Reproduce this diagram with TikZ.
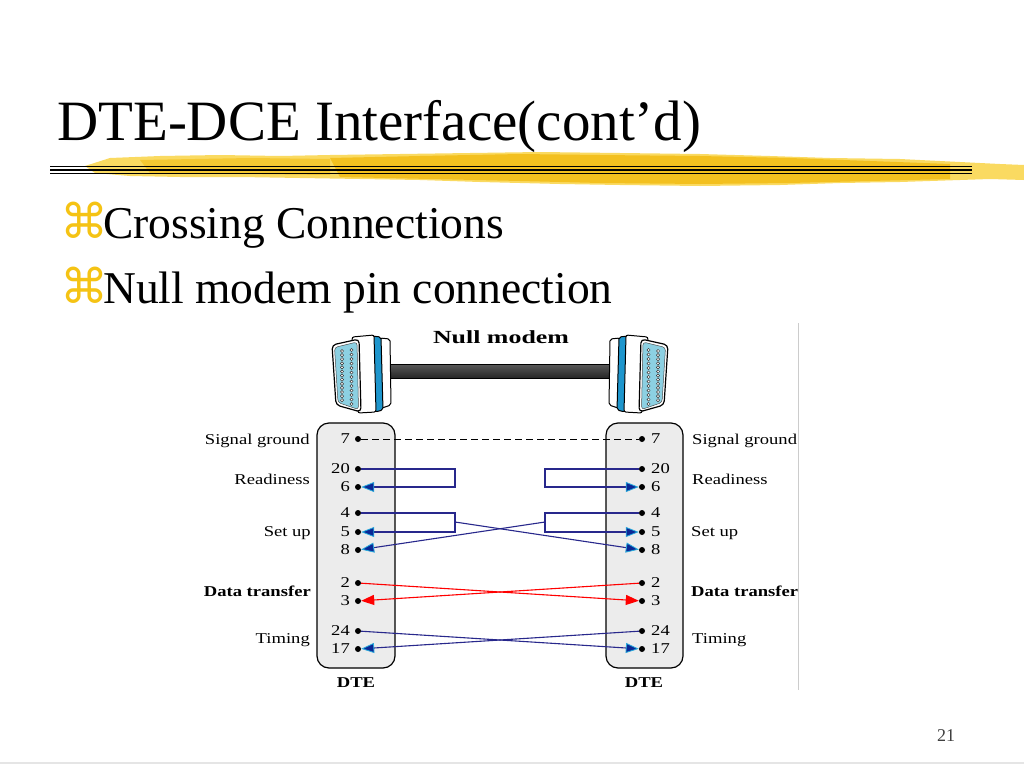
\documentclass[tikz,border=0pt]{standalone}
\usepackage{fontspec}
\setmainfont{Liberation Serif}
\newfontfamily\dia[FakeStretch=1.24]{Liberation Serif}
\newfontfamily\diatitle[FakeStretch=1.4]{Liberation Serif}
\newfontfamily\symf{DejaVu Sans}
\usetikzlibrary{arrows.meta}
\definecolor{navy}{RGB}{40,40,140}
\definecolor{arrowblue}{RGB}{10,40,150}
\definecolor{arrowcyan}{RGB}{40,170,220}
\definecolor{gold}{RGB}{245,195,20}
\definecolor{brushA}{RGB}{250,215,80}
\definecolor{brushB}{RGB}{242,188,20}
\definecolor{boxgray}{RGB}{236,236,236}
\definecolor{facblue}{RGB}{140,208,226}
\definecolor{bandblue}{RGB}{30,150,205}
\newcommand\dbconn{%
  \draw[black,line width=1pt,fill=white,rounded corners=2pt] (380,338) -- (390,339) -- (391,405) -- (382,408) -- cycle;
  \draw[black,line width=1pt,fill=bandblue,rounded corners=2pt] (372,336) -- (381,337) -- (383,410) -- (375,412) -- cycle;
  \draw[black,line width=1pt,fill=white,rounded corners=2pt] (352,337) -- (374,335) -- (376,412) -- (358,413) -- cycle;
  \draw[black,line width=1.2pt,fill=white,rounded corners=4pt] (332,345) -- (359,339) -- (361,412) -- (336,405) -- cycle;
  \draw[black!70,line width=0.5pt,fill=facblue,rounded corners=3pt] (334.5,347.5) -- (357,342) -- (358.5,409.5) -- (338,402.5) -- cycle;
  \foreach \i in {0,...,12} \draw[black!80,line width=0.5pt,fill=white] (342,{351+\i*4.1}) circle (1.6);
  \foreach \i in {0,...,12} \draw[black!80,line width=0.5pt,fill=white] (351.5,{350+\i*4.5}) circle (1.6);
}
\tikzset{
  pin/.style={circle,fill=black,inner sep=0pt,minimum size=6pt},
  lnum/.style={anchor=east,inner sep=0pt,font=\dia\fontsize{15}{17}\selectfont},
  rnum/.style={anchor=west,inner sep=0pt,font=\dia\fontsize{15}{17}\selectfont},
  grp/.style={inner sep=0pt,font=\dia\fontsize{15}{17}\selectfont},
  grpb/.style={inner sep=0pt,font=\dia\bfseries\fontsize{15}{17}\selectfont},
  wire/.style={navy,line width=1.1pt},
  bluearr/.style={wire,-{Triangle[length=13pt,width=10pt,fill=arrowblue,color=arrowcyan,line width=0.8pt]}},
  redarr/.style={red,line width=1.1pt,-{Triangle[length=13pt,width=10pt,fill=red,color=red]}},
  pinbox/.style={draw=black,line width=1.2pt,fill=boxgray,rounded corners=12pt}
}
\begin{document}
\begin{tikzpicture}[x=1pt,y=-1pt]
\useasboundingbox (0,0) rectangle (1024,768);
\fill[white] (0,0) rectangle (1024,768);
% brush
\fill[brushA,opacity=0.9] (85,166) -- (110,158) -- (160,156) -- (220,155) -- (280,156) -- (330,155) -- (400,154) -- (470,153) -- (540,152) -- (620,153) -- (700,154) -- (770,156) -- (830,158) -- (900,159) -- (960,162) -- (1000,164) -- (1024,165) -- (1024,180) -- (990,179) -- (960,180) -- (900,182) -- (840,183) -- (780,185) -- (700,186) -- (620,185) -- (560,184) -- (480,182) -- (420,180) -- (360,179) -- (300,178) -- (240,177) -- (180,177) -- (130,176) -- (95,173) -- cycle;
\fill[brushB,opacity=0.85] (330,158) -- (420,156) -- (520,154) -- (600,155) -- (700,156) -- (790,158) -- (870,161) -- (950,164) -- (950,179) -- (870,181) -- (790,183) -- (700,184) -- (600,183) -- (520,181) -- (430,179) -- (340,177) -- cycle;
\fill[brushB,opacity=0.6] (140,160) -- (250,158) -- (330,159) -- (330,175) -- (240,174) -- (150,173) -- cycle;
% triple line
\foreach \yy in {166.5,170,173.5} \draw[black,line width=1.6pt] (50,\yy) -- (972,\yy);
% title and bullets
\node[anchor=base west,inner sep=0pt,font=\fontsize{57}{60}\selectfont] (title) at (57,140) {DTE-DCE Interface(cont’d)};
\node[anchor=base west,inner sep=0pt,text=gold,font=\symf\fontsize{48}{50}\selectfont] (s1) at (60,238) {⌘};
\node[anchor=base west,inner sep=0pt,font=\fontsize{45.5}{48}\selectfont] (b1) at (103,238) {Crossing Connections};
\node[anchor=base west,inner sep=0pt,text=gold,font=\symf\fontsize{48}{50}\selectfont] (s2) at (60,303) {⌘};
\node[anchor=base west,inner sep=0pt,font=\fontsize{45.5}{48}\selectfont] (b2) at (103,303) {Null modem pin connection};
% page number and footer
\node[anchor=base,inner sep=0pt,text=black!75,font=\fontsize{18}{20}\selectfont] (pg) at (946,741) {21};
\draw[black!10,line width=1.5pt] (0,763) -- (1024,763);
% right border of figure
\draw[black!20,line width=0.8pt] (798,323) -- (798,690);
% null modem cable
\node[inner sep=0pt,font=\diatitle\bfseries\fontsize{18.5}{20}\selectfont] (nm) at (501,337) {Null modem};
\shade[top color=black!65,middle color=black!35,bottom color=black!85] (388,364) rectangle (612,378);
\draw[black,line width=0.8pt] (388,364) -- (612,364) (388,378) -- (612,378);
\begin{scope}\dbconn\end{scope}
\begin{scope}[xshift=1000pt,xscale=-1]\dbconn\end{scope}
% pin boxes
\draw[pinbox] (317,423) rectangle (395,668);
\draw[pinbox] (606,423) rectangle (683,668);
% pins
\foreach \n/\yy in {7/439,20/469,6/487,4/513,5/532,8/550,2/583,3/601,24/631,17/649}{
  \node[pin] (L\n) at (358,\yy) {};
  \node[pin] (R\n) at (642,\yy) {};
  \node[lnum] (LN\n) at (350,\yy) {\n};
  \node[rnum] (RN\n) at (651,\yy) {\n};
}
% group labels
\node[grp,anchor=mid east] (lg1) at (310,442) {Signal ground};
\node[grp,anchor=mid east] (lg2) at (310,482) {Readiness};
\node[grp,anchor=mid east] (lg3) at (311,534) {Set up};
\node[grpb,anchor=mid east] (lg4) at (311,594) {Data transfer};
\node[grp,anchor=mid east] (lg5) at (310,641) {Timing};
\node[grp,anchor=mid west] (rg1) at (692,442) {Signal ground};
\node[grp,anchor=mid west] (rg2) at (692,482) {Readiness};
\node[grp,anchor=mid west] (rg3) at (691,534) {Set up};
\node[grpb,anchor=mid west] (rg4) at (691,594) {Data transfer};
\node[grp,anchor=mid west] (rg5) at (692,641) {Timing};
\node[grpb] (dte1) at (356,683) {DTE};
\node[grpb] (dte2) at (644,683) {DTE};
% bracket coordinates
\coordinate (la1) at (455,469); \coordinate (la2) at (455,487);
\coordinate (ra1) at (545,469); \coordinate (ra2) at (545,487);
\coordinate (lb1) at (455,513); \coordinate (lb2) at (455,532); \coordinate (lbm) at (455,522);
\coordinate (rb1) at (545,513); \coordinate (rb2) at (545,532); \coordinate (rbm) at (545,522);
% connections
\draw[black,line width=1pt,dash pattern=on 7pt off 4pt] (L7) -- (R7);
\draw[bluearr] (L20) -- (la1) -- (la2) -- (L6);
\draw[bluearr] (R20) -- (ra1) -- (ra2) -- (R6);
\draw[bluearr] (L4) -- (lb1) -- (lb2) -- (L5);
\draw[bluearr] (R4) -- (rb1) -- (rb2) -- (R5);
\draw[bluearr] (lbm) -- (R8);
\draw[bluearr] (rbm) -- (L8);
\draw[redarr] (L2) -- (R3);
\draw[redarr] (R2) -- (L3);
\draw[bluearr] (L24) -- (R17);
\draw[bluearr] (R24) -- (L17);
\end{tikzpicture}
\end{document}
